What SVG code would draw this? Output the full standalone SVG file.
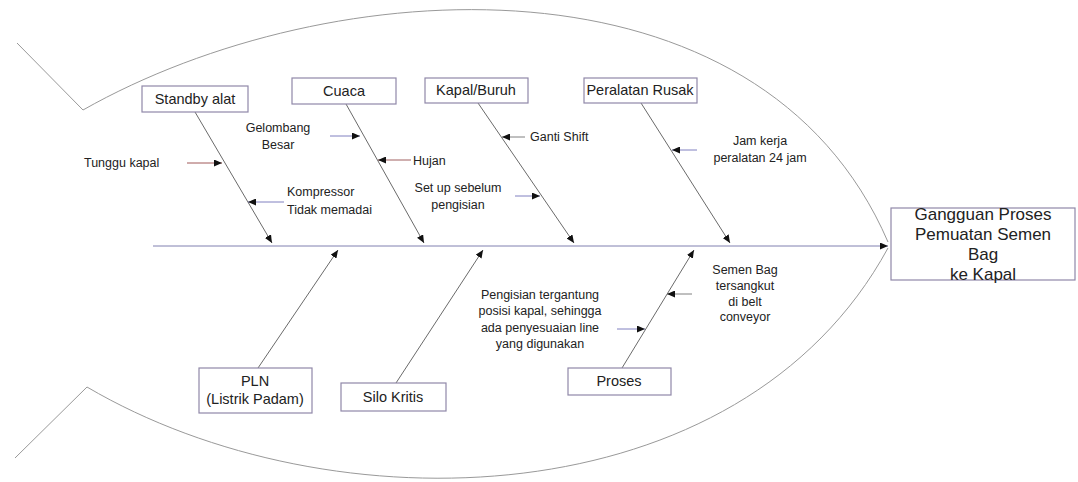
<svg xmlns="http://www.w3.org/2000/svg" width="1078" height="482" viewBox="0 0 1078 482">
<style>
.box{fill:#fff;stroke:#9088a8;stroke-width:1.2}
.bt{font-family:"Liberation Sans",Arial,sans-serif;font-size:14.5px;fill:#222;text-anchor:middle}
.ht{font-family:"Liberation Sans",Arial,sans-serif;font-size:17px;fill:#222;text-anchor:middle}
.lt{font-family:"Liberation Sans",Arial,sans-serif;font-size:12.5px;fill:#222}
.c{text-anchor:middle}
.fish{fill:none;stroke:#999;stroke-width:1}
.bone{fill:none;stroke:#6a6a6a;stroke-width:1;marker-end:url(#ah)}
.sa{fill:none;stroke-width:1;marker-end:url(#ah)}
</style>
<defs>
<marker id="ah" markerUnits="userSpaceOnUse" markerWidth="8" markerHeight="7" refX="8" refY="3.5" orient="auto">
<path d="M0,0 L8,3.5 L0,7 z" fill="#111"/>
</marker>
</defs>
<rect width="1078" height="482" fill="#fff"/>
<g id="fish-outline">
<path class="fish" d="M17,43 L83,110 C330,-30 760,-55 888,242"/>
<path class="fish" d="M15,458 L87,387 C330,530 740,520 888,248"/>
</g>
<g id="connectors">
<line class="sa" x1="153" y1="246" x2="888" y2="246" stroke="#8080b0" stroke-width="1.3"/>
<path class="bone" d="M195,112 L272,243"/>
<path class="bone" d="M346,104 L424,243"/>
<path class="bone" d="M478,103 L574,243"/>
<path class="bone" d="M641,103 L730,243"/>
<path class="bone" d="M258,368 L338,250"/>
<path class="bone" d="M396,383 L483,250"/>
<path class="bone" d="M622,368 L694,250"/>
<path class="sa" stroke="#a05858" d="M187,163 L222,163"/>
<path class="sa" stroke="#8080c0" d="M330,136 L360,136"/>
<path class="sa" stroke="#a06060" d="M411,160 L378,160"/>
<path class="sa" stroke="#8080c0" d="M284,202 L248,202"/>
<path class="sa" stroke="#808080" d="M525,137 L502,137"/>
<path class="sa" stroke="#8080c0" d="M515,196 L540,196"/>
<path class="sa" stroke="#8080c0" d="M697,150 L672,150"/>
<path class="sa" stroke="#808080" d="M692,294 L667,294"/>
<path class="sa" stroke="#8080c0" d="M617,329 L645,329"/>
</g>
<g id="head">
<rect class="box" x="891" y="208" width="184" height="72"/>
<text class="ht" x="983" y="220">Gangguan Proses</text>
<text class="ht" x="983" y="240">Pemuatan Semen</text>
<text class="ht" x="983" y="260">Bag</text>
<text class="ht" x="983" y="280">ke Kapal</text>
</g>
<g id="standby">
<rect class="box" x="142" y="86" width="106" height="26"/>
<text class="bt" x="195" y="104">Standby alat</text>
</g>
<g id="cuaca">
<rect class="box" x="292" y="78" width="104" height="26"/>
<text class="bt" x="344" y="96">Cuaca</text>
</g>
<g id="kapal">
<rect class="box" x="425" y="78" width="103" height="25"/>
<text class="bt" x="476" y="95">Kapal/Buruh</text>
</g>
<g id="peralatan">
<rect class="box" x="584" y="78" width="113" height="25"/>
<text class="bt" x="640" y="95">Peralatan Rusak</text>
</g>
<g id="pln">
<rect class="box" x="199" y="368" width="113" height="45"/>
<text class="bt" x="255" y="386">PLN</text>
<text class="bt" x="255" y="404">(Listrik Padam)</text>
</g>
<g id="silo">
<rect class="box" x="341" y="383" width="105" height="28"/>
<text class="bt" x="393" y="402">Silo Kritis</text>
</g>
<g id="proses">
<rect class="box" x="568" y="368" width="103" height="27"/>
<text class="bt" x="619" y="386">Proses</text>
</g>
<g id="labels">
<text class="lt" x="84" y="167">Tunggu kapal</text>
<text class="lt c" x="278" y="132">Gelombang</text>
<text class="lt c" x="278" y="149">Besar</text>
<text class="lt" x="413" y="165">Hujan</text>
<text class="lt" x="287" y="196">Kompressor</text>
<text class="lt" x="287" y="214">Tidak memadai</text>
<text class="lt" x="530" y="141">Ganti Shift</text>
<text class="lt c" x="458" y="192">Set up sebelum</text>
<text class="lt c" x="458" y="209">pengisian</text>
<text class="lt c" x="760" y="145">Jam kerja</text>
<text class="lt c" x="760" y="162">peralatan 24 jam</text>
<text class="lt c" x="745" y="274">Semen Bag</text>
<text class="lt c" x="745" y="290">tersangkut</text>
<text class="lt c" x="745" y="306">di belt</text>
<text class="lt c" x="745" y="321">conveyor</text>
<text class="lt c" x="540" y="299">Pengisian tergantung</text>
<text class="lt c" x="540" y="315">posisi kapal, sehingga</text>
<text class="lt c" x="540" y="332">ada penyesuaian line</text>
<text class="lt c" x="540" y="348">yang digunakan</text>
</g>
</svg>
